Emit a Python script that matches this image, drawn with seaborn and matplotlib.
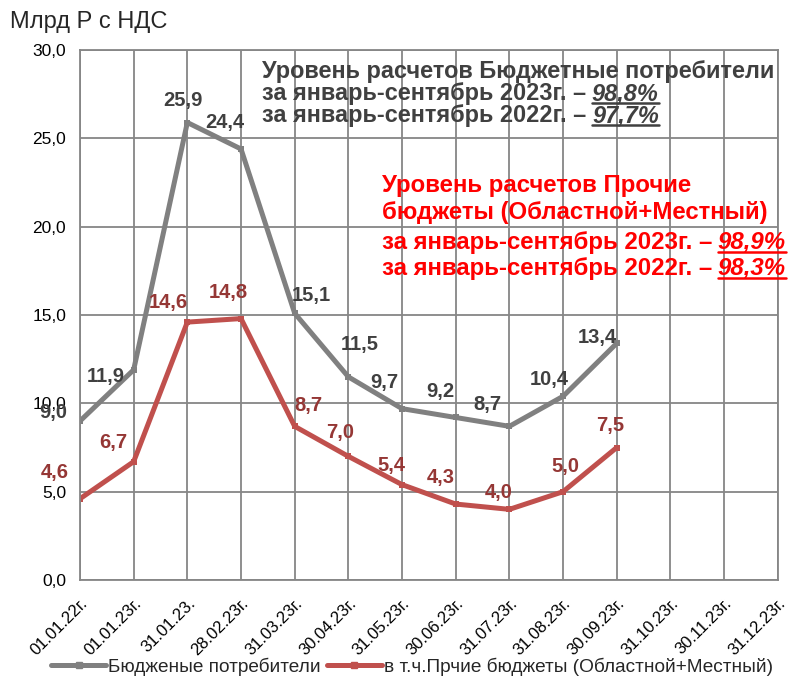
import matplotlib
matplotlib.use("Agg")
import matplotlib.pyplot as plt
from matplotlib.lines import Line2D
import pandas as pd
import seaborn as sns

# categories (x axis) and the two series
dates = ["01.01.22г.", "01.01.23г.", "31.01.23.", "28.02.23г.", "31.03.23г.",
         "30.04.23г.", "31.05.23г.", "30.06.23г.", "31.07.23г.", "31.08.23г.",
         "30.09.23г.", "31.10.23г.", "30.11.23г.", "31.12.23г."]
budget = [9.0, 11.9, 25.9, 24.4, 15.1, 11.5, 9.7, 9.2, 8.7, 10.4, 13.4]
other = [4.6, 6.7, 14.6, 14.8, 8.7, 7.0, 5.4, 4.3, 4.0, 5.0, 7.5]
series_names = ["Бюдженые потребители", "в т.ч.Прчие бюджеты (Областной+Местный)"]

# label offsets (points) for data labels
budget_offsets = [(-19, 6), (-20, -5), (-3, 16), (-12, 19), (12, 13), (8, 23),
                  (-13, 19), (-11, 19), (-16, 16), (-10, 12), (-14, 4)]
other_offsets = [(-18, 19), (-15, 14), (-14, 14), (-9, 19), (10, 15), (-6, 17),
                 (-8, 14), (-11, 19), (-8, 12), (2, 18), (-5, 16)]

sns.set_theme(style="white")
plt.rcParams["font.family"] = ["Liberation Sans", "DejaVu Sans"]

grid_c = "#868686"
grey = "#808080"
red = "#C0504D"

df = pd.DataFrame({
    "pos": list(range(len(budget))) * 2,
    "value": budget + other,
    "series": [series_names[0]] * len(budget) + [series_names[1]] * len(other),
})

fig = plt.figure(figsize=(7.92, 6.86), dpi=100)
ax = fig.add_axes([0.101, 0.1545, 0.881, 0.7725])

sns.lineplot(data=df, x="pos", y="value", hue="series",
             palette=[grey, red], linewidth=3.6, marker="s", markersize=5,
             markeredgewidth=0, ax=ax, legend=False)

ax.set_xlim(0, len(dates) - 1)
ax.set_ylim(0, 30)
ax.set_xticks(range(len(dates)))
ax.set_xticklabels(dates, rotation=45, ha="right", rotation_mode="anchor",
                   fontsize=12)
ax.set_yticks([0, 5, 10, 15, 20, 25, 30])
ax.set_yticklabels([f"{v:.1f}".replace(".", ",") for v in ax.get_yticks()],
                   fontsize=12.5)
ax.set_xlabel("")
ax.set_ylabel("")
ax.grid(True, color=grid_c, linewidth=1.3)
ax.set_axisbelow(True)
for s in ax.spines.values():
    s.set_color(grid_c)
    s.set_linewidth(1.3)
ax.tick_params(axis="both", direction="out", length=6, width=1.3,
               color=grid_c, colors="black", pad=4)
ax.tick_params(axis="x", pad=5)

# data labels
for vals, offs, col in [(budget, budget_offsets, "#404040"),
                        (other, other_offsets, "#953735")]:
    for i, (v, o) in enumerate(zip(vals, offs)):
        ax.annotate(f"{v:.1f}".replace(".", ","), (i, v), xytext=o,
                    textcoords="offset points", ha="center", va="center",
                    fontsize=14.5, fontweight="bold", color=col)

fig.text(0.013, 0.968, "Млрд Р с НДС", fontsize=17, va="center")

# text blocks with underlined italic percentages
pct_texts = []


def block_line(x, y, head, pct, color, size=17.3):
    t = fig.text(x, y, head, fontsize=size, fontweight="bold", color=color,
                 va="center", ha="left")
    if pct:
        p = ax.annotate(pct, xy=(1, 0), xycoords=t, xytext=(4, 0),
                        textcoords="offset points", ha="left", va="bottom",
                        fontsize=size, fontweight="bold", fontstyle="italic",
                        color=color)
        pct_texts.append((p, color))


dark = "#404040"
block_line(0.331, 0.896, "Уровень расчетов Бюджетные потребители", None, dark, 16.9)
block_line(0.331, 0.863, "за январь-сентябрь 2023г. –", "98,8%", dark, 16.9)
block_line(0.331, 0.831, "за январь-сентябрь 2022г. –", "97,7%", dark, 16.9)

rc = "#FF0000"
block_line(0.482, 0.730, "Уровень расчетов Прочие", None, rc)
block_line(0.482, 0.690, "бюджеты (Областной+Местный)", None, rc)
block_line(0.482, 0.647, "за январь-сентябрь 2023г. –", "98,9%", rc)
block_line(0.482, 0.609, "за январь-сентябрь 2022г. –", "98,3%", rc)

fig.canvas.draw()
inv = fig.transFigure.inverted()
for p, col in pct_texts:
    bb = p.get_window_extent()
    (x0, y0), (x1, _) = inv.transform([(bb.x0, bb.y0 + 2), (bb.x1, bb.y0 + 2)])
    fig.add_artist(Line2D([x0, x1], [y0, y0], color=col, linewidth=1.8,
                          transform=fig.transFigure))

handles = [Line2D([], [], color=grey, linewidth=3.6, marker="s", markersize=5),
           Line2D([], [], color=red, linewidth=3.6, marker="s", markersize=5)]
fig.legend(handles, series_names, loc="lower center",
           bbox_to_anchor=(0.52, -0.01), ncol=2, frameon=False, fontsize=13.7,
           handlelength=2.9, handletextpad=0.1, columnspacing=0.3)

fig.savefig("out.png", dpi=100)
